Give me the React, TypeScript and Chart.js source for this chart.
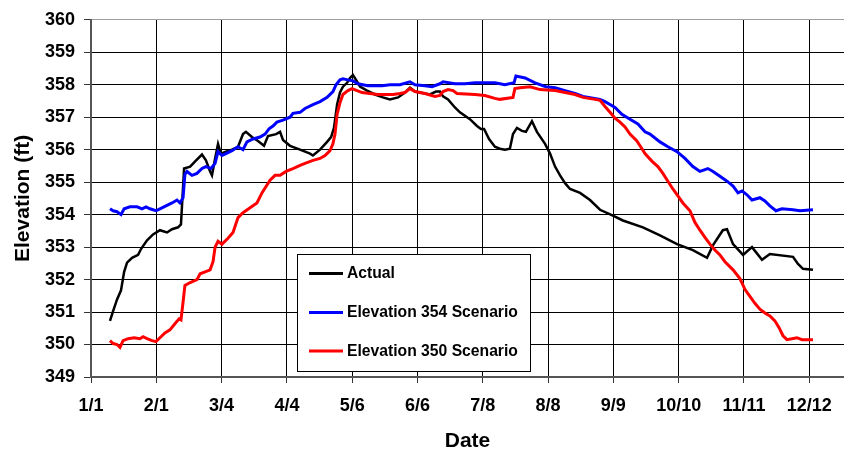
import React, { useEffect, useRef } from "react";
import { Chart, registerables } from "chart.js";

Chart.register(...registerables);

// X axis: days since 1/1; tick labels evenly spaced (one every 31.3636 days)
const tickLabels = ["1/1", "2/1", "3/4", "4/4", "5/6", "6/6", "7/8", "8/8", "9/9", "10/10", "11/11", "12/12"];
const tickStepDays = 31.3636;
const xMaxDay = 361.7;

const yMin = 349;
const yMax = 360;

const seriesNames = ["Actual", "Elevation 354 Scenario", "Elevation 350 Scenario"];
const seriesColors = ["#000000", "#0000ff", "#ff0000"];

// [day, elevation ft]
const actual: number[][] = [
  [9.1, 350.73], [10.6, 351.03], [12.5, 351.39], [14.4, 351.67], [15.9, 352.24], [17.3, 352.52],
  [19.7, 352.67], [22.6, 352.76], [24.0, 352.94], [26.9, 353.21], [29.8, 353.39], [33.1, 353.52],
  [36.5, 353.45], [38.9, 353.55], [41.8, 353.61], [43.2, 353.7], [44.7, 355.42], [47.6, 355.48],
  [50.0, 355.64], [53.3, 355.85], [55.2, 355.67], [57.2, 355.33], [58.1, 355.21], [59.6, 355.73],
  [61.0, 356.18], [62.4, 355.88], [64.8, 355.94], [67.7, 356.0], [70.6, 356.09], [73.0, 356.48],
  [74.4, 356.55], [77.3, 356.39], [80.2, 356.27], [83.1, 356.12], [85.0, 356.42], [88.9, 356.48],
  [90.8, 356.55], [92.2, 356.3], [95.6, 356.12], [100.4, 356.0], [105.2, 355.88], [106.6, 355.82],
  [110.0, 356.0], [113.4, 356.24], [115.3, 356.39], [116.7, 356.67], [118.2, 357.39], [119.6, 357.76],
  [121.0, 357.94], [123.0, 358.06], [124.4, 358.21], [125.8, 358.3], [127.3, 358.15], [129.2, 357.94],
  [132.6, 357.82], [136.4, 357.7], [140.2, 357.61], [143.6, 357.55], [147.5, 357.61], [150.8, 357.76],
  [153.2, 357.91], [155.6, 357.79], [160.4, 357.73], [162.8, 357.7], [165.7, 357.79], [167.6, 357.79],
  [169.1, 357.64], [171.5, 357.55], [174.8, 357.3], [177.2, 357.15], [182.0, 356.94], [185.4, 356.73],
  [187.3, 356.64], [188.8, 356.64], [191.2, 356.33], [194.0, 356.09], [196.4, 356.03], [198.8, 356.0],
  [201.2, 356.03], [202.7, 356.48], [204.6, 356.67], [207.0, 356.58], [208.9, 356.55], [211.8, 356.88],
  [214.2, 356.55], [218.1, 356.18], [220.5, 355.88], [222.9, 355.48], [225.3, 355.21], [227.7, 354.97],
  [230.1, 354.79], [234.9, 354.67], [239.7, 354.45], [244.5, 354.15], [250.7, 353.97], [255.5, 353.82],
  [265.1, 353.61], [273.3, 353.36], [281.5, 353.09], [289.1, 352.91], [295.9, 352.67], [298.8, 353.06],
  [303.5, 353.52], [305.5, 353.55], [308.4, 353.09], [313.2, 352.76], [317.5, 353.0], [322.3, 352.61],
  [326.1, 352.79], [337.2, 352.7], [339.6, 352.48], [342.0, 352.33], [346.8, 352.3],
];

const elev354: number[][] = [
  [9.1, 354.18], [10.6, 354.12], [12.5, 354.09], [14.4, 354.0], [15.9, 354.18], [18.7, 354.24],
  [22.1, 354.24], [24.5, 354.18], [26.4, 354.24], [28.3, 354.18], [31.2, 354.12], [33.1, 354.18],
  [36.0, 354.27], [38.9, 354.36], [41.3, 354.45], [42.7, 354.36], [44.2, 354.52], [45.1, 355.24],
  [46.1, 355.33], [48.5, 355.21], [50.9, 355.27], [53.3, 355.42], [55.2, 355.48], [57.6, 355.42],
  [59.6, 355.58], [61.0, 355.94], [62.9, 355.82], [64.8, 355.88], [67.7, 355.97], [70.6, 356.09],
  [73.0, 356.0], [74.9, 356.24], [77.8, 356.33], [81.2, 356.39], [83.6, 356.48], [85.5, 356.64],
  [87.4, 356.73], [89.3, 356.85], [92.2, 356.91], [95.6, 357.0], [97.0, 357.12], [100.4, 357.15],
  [102.8, 357.27], [106.6, 357.39], [110.0, 357.48], [113.4, 357.61], [116.2, 357.79], [117.7, 358.0],
  [119.6, 358.15], [121.0, 358.18], [123.4, 358.15], [125.8, 358.12], [128.2, 358.03], [133.0, 357.97],
  [139.8, 357.97], [143.6, 358.0], [148.4, 358.0], [153.2, 358.09], [155.6, 358.0], [160.4, 357.97],
  [163.8, 357.94], [167.6, 358.03], [169.1, 358.09], [174.8, 358.03], [179.6, 358.03], [184.4, 358.06],
  [194.0, 358.06], [198.8, 358.0], [203.2, 358.06], [204.1, 358.27], [208.5, 358.21], [213.3, 358.06],
  [218.5, 357.94], [222.9, 357.91], [227.7, 357.82], [232.5, 357.73], [236.3, 357.64], [244.5, 357.55],
  [246.9, 357.48], [249.3, 357.39], [251.7, 357.3], [255.0, 357.09], [258.9, 356.94], [262.7, 356.79],
  [266.1, 356.55], [268.5, 356.48], [273.3, 356.24], [277.1, 356.09], [281.5, 355.94], [285.3, 355.73],
  [289.1, 355.48], [292.5, 355.33], [296.3, 355.42], [298.8, 355.33], [302.1, 355.18], [305.5, 355.03],
  [308.4, 354.88], [310.8, 354.67], [312.7, 354.73], [315.1, 354.61], [317.5, 354.45], [321.3, 354.52],
  [323.7, 354.42], [326.1, 354.27], [329.0, 354.12], [331.9, 354.18], [337.2, 354.15], [340.5, 354.12],
  [346.8, 354.15],
];

const elev350: number[][] = [
  [9.1, 350.12], [10.6, 350.03], [12.5, 350.0], [13.9, 349.91], [15.4, 350.12], [17.8, 350.18],
  [20.7, 350.21], [23.5, 350.18], [25.0, 350.24], [26.9, 350.18], [29.3, 350.12], [31.2, 350.09],
  [33.1, 350.21], [35.5, 350.36], [37.9, 350.45], [40.3, 350.64], [42.3, 350.79], [43.2, 350.76],
  [44.2, 351.3], [45.1, 351.82], [47.6, 351.91], [50.9, 352.0], [52.4, 352.18], [54.8, 352.24],
  [57.2, 352.3], [58.6, 352.55], [59.6, 353.0], [61.0, 353.18], [62.9, 353.09], [65.8, 353.27],
  [68.2, 353.45], [70.6, 353.91], [73.0, 354.06], [76.4, 354.21], [79.7, 354.36], [82.1, 354.67],
  [83.6, 354.82], [86.0, 355.06], [88.4, 355.21], [90.8, 355.21], [93.7, 355.33], [97.0, 355.42],
  [100.4, 355.52], [102.8, 355.58], [106.6, 355.67], [110.0, 355.73], [112.4, 355.82], [114.8, 355.97],
  [116.2, 356.18], [117.2, 356.48], [118.2, 357.09], [119.6, 357.45], [121.0, 357.7], [123.4, 357.82],
  [125.4, 357.88], [127.8, 357.82], [130.2, 357.76], [134.0, 357.73], [137.8, 357.7], [145.1, 357.7],
  [148.4, 357.73], [150.8, 357.76], [153.2, 357.88], [155.6, 357.79], [160.4, 357.73], [165.2, 357.64],
  [167.6, 357.67], [169.1, 357.79], [171.5, 357.85], [173.9, 357.82], [175.8, 357.73], [184.4, 357.7],
  [189.2, 357.67], [194.0, 357.58], [196.4, 357.55], [202.7, 357.61], [203.6, 357.88], [206.1, 357.91],
  [210.9, 357.94], [215.7, 357.85], [222.9, 357.82], [227.7, 357.76], [232.5, 357.7], [236.3, 357.61],
  [242.1, 357.55], [244.5, 357.52], [246.9, 357.33], [249.3, 357.15], [251.7, 356.97], [254.1, 356.85],
  [256.5, 356.7], [258.9, 356.48], [262.2, 356.27], [263.7, 356.12], [266.1, 355.88], [269.5, 355.64],
  [272.3, 355.48], [274.7, 355.27], [277.1, 355.03], [279.5, 354.79], [281.9, 354.58], [284.3, 354.36],
  [287.7, 354.12], [290.1, 353.76], [292.5, 353.52], [294.9, 353.3], [297.3, 353.09], [299.7, 352.91],
  [302.1, 352.76], [304.5, 352.55], [308.4, 352.3], [311.7, 352.03], [314.1, 351.7], [316.5, 351.48],
  [318.9, 351.27], [321.3, 351.09], [323.7, 350.97], [326.1, 350.88], [328.5, 350.73], [330.5, 350.52],
  [332.4, 350.27], [334.3, 350.15], [336.7, 350.18], [339.1, 350.21], [341.5, 350.15], [346.8, 350.15],
];

const seriesData = [actual, elev354, elev350];
const seriesWidths = [2.5, 3, 3];

const FONT = "'Liberation Sans', Arial, sans-serif";

const legendPlugin = {
  id: "boxLegend",
  afterDatasetsDraw(chart: any) {
    const ctx = chart.ctx;
    const x0 = 297, y0 = 254, w = 233, h = 117;
    ctx.save();
    ctx.fillStyle = "#ffffff";
    ctx.fillRect(x0, y0, w, h);
    ctx.strokeStyle = "#000000";
    ctx.lineWidth = 1;
    ctx.strokeRect(x0 + 0.5, y0 + 0.5, w, h);
    const rows = [273.5, 312.5, 351];
    ctx.font = `bold 15.7px ${FONT}`;
    ctx.textBaseline = "middle";
    ctx.textAlign = "left";
    seriesNames.forEach((name, i) => {
      const y = rows[i];
      ctx.strokeStyle = seriesColors[i];
      ctx.lineWidth = 3;
      ctx.beginPath();
      ctx.moveTo(309, y);
      ctx.lineTo(343, y);
      ctx.stroke();
      ctx.fillStyle = "#000000";
      ctx.fillText(name, 347, y + 0.5);
    });
    ctx.restore();
  },
};

export default function App() {
  const canvasRef = useRef<HTMLCanvasElement | null>(null);

  useEffect(() => {
    const canvas = canvasRef.current;
    if (!canvas) return;
    const chart = new Chart(canvas, {
      type: "line",
      data: {
        datasets: seriesData.map((s, i) => ({
          label: seriesNames[i],
          data: s.map(([x, y]) => ({ x, y })),
          borderColor: seriesColors[i],
          backgroundColor: seriesColors[i],
          borderWidth: seriesWidths[i],
          pointRadius: 0,
          tension: 0,
          fill: false,
          order: 3 - i,
        })),
      },
      options: {
        responsive: false,
        animation: false,
        layout: { padding: { left: 0, right: 0, top: 14, bottom: 0 } },
        plugins: {
          legend: { display: false },
          tooltip: { enabled: false },
        },
        scales: {
          x: {
            type: "linear",
            min: 0,
            max: xMaxDay,
            ticks: {
              stepSize: tickStepDays,
              includeBounds: false,
              autoSkip: false,
              maxRotation: 0,
              minRotation: 0,
              padding: 12,
              color: "#000",
              font: { family: FONT, size: 18, weight: "bold" },
              callback: (_v: any, i: number) => tickLabels[i] ?? "",
            },
            grid: { color: "#000000", lineWidth: 1, tickColor: "#333", tickLength: 6 },
            border: { color: "#555", width: 2 },
            title: {
              display: true,
              text: "Date",
              color: "#000",
              font: { family: FONT, size: 21, weight: "bold" },
              padding: { top: 0.2, bottom: 1 },
            },
          },
          y: {
            type: "linear",
            min: yMin,
            max: yMax,
            ticks: {
              stepSize: 1,
              padding: 9,
              color: "#000",
              font: { family: FONT, size: 18, weight: "bold" },
            },
            grid: {
              color: (c: any) => (c.tick && c.tick.value === yMax ? "#a0a0a0" : "#000000"),
              lineWidth: 1,
              tickColor: "#333",
              tickLength: 7,
            },
            border: { color: "#555", width: 2 },
            title: {
              display: true,
              text: "Elevation (ft)",
              color: "#000",
              font: { family: FONT, size: 21, weight: "bold" },
              padding: { top: 10.4, bottom: 0.4 },
            },
          },
        },
      },
      plugins: [legendPlugin],
    } as any);
    return () => chart.destroy();
  }, []);

  return (
    <div style={{ position: "absolute", left: 0, top: 0, width: 844, height: 455, overflow: "hidden", background: "#fff" }}>
      <canvas ref={canvasRef} width={844} height={455} style={{ display: "block" }} />
    </div>
  );
}
